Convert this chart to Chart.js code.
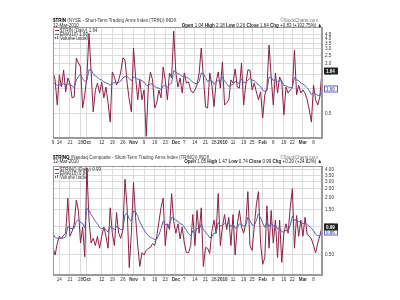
<!DOCTYPE html>
<html>
<head>
<meta charset="utf-8">
<script src="https://cdn.jsdelivr.net/npm/chart.js@4.4.1/dist/chart.umd.min.js"></script>
<style>
    body { margin: 0; background: #fff; }
    #wrap { position: relative; width: 400px; height: 300px; overflow: hidden; }
    canvas { position: absolute; left: 0; }
</style>
</head>
<body>
<div id="wrap">
    <canvas id="trin" width="400" height="150" style="top:0"></canvas>
    <canvas id="trinq" width="400" height="150" style="top:150px"></canvas>
</div>
<script>
//
// Trading days, 9-Sep-2009 .. 12-Mar-2010
//
const sepDays = [9, 10, 11, 14, 15, 16, 17, 18, 21, 22, 23, 24, 25, 28, 29, 30]
const octDays = [1, 2, 5, 6, 7, 8, 9, 12, 13, 14, 15, 16, 19, 20, 21, 22, 23, 26, 27, 28, 29, 30]
const novDays = [2, 3, 4, 5, 6, 9, 10, 11, 12, 13, 16, 17, 18, 19, 20, 23, 24, 25, 27, 30]
const decDays = [1, 2, 3, 4, 7, 8, 9, 10, 11, 14, 15, 16, 17, 18, 21, 22, 23, 24, 28, 29, 30, 31]
const janDays = [4, 5, 6, 7, 8, 11, 12, 13, 14, 15, 19, 20, 21, 22, 25, 26, 27, 28, 29]
const febDays = [1, 2, 3, 4, 5, 8, 9, 10, 11, 12, 16, 17, 18, 19, 22, 23, 24, 25, 26]
const marDays = [1, 2, 3, 4, 5, 8, 9, 10, 11, 12]

const tickDates = ['Sep 9', 'Sep 14', 'Sep 21', 'Sep 28', 'Oct 1', 'Oct 12', 'Oct 19', 'Oct 26',
    'Nov 2', 'Nov 9', 'Nov 16', 'Nov 23', 'Dec 1', 'Dec 7', 'Dec 14', 'Dec 21', 'Dec 28',
    'Jan 4', 'Jan 11', 'Jan 19', 'Jan 25', 'Feb 1', 'Feb 8', 'Feb 16', 'Feb 22', 'Mar 1', 'Mar 8']
const tickText = ['9', '14', '21', '28', 'Oct', '12', '19', '26', 'Nov', '9', '16', '23', 'Dec',
    '7', '14', '21', '28', '2010', '11', '19', '25', 'Feb', '8', '16', '22', 'Mar', '8']

//
// Series
//
const trinDaily = [
    1.59, 1.28, 0.64, 1.47, 1.05, 1.68, 0.92, 1.35, 1.17, 0.78,
    0.80, 2.34, 2.04, 1.83, 0.59, 0.85, 1.39, 4.60, 1.59, 0.53,
    0.97, 1.17, 0.89, 1.21, 0.78, 1.05, 0.68, 0.40, 1.59, 1.39,
    1.11, 1.28, 1.59, 2.34, 2.22, 1.17, 0.74, 0.53, 3.08, 1.39,
    0.74, 1.28, 0.74, 0.97, 0.27, 1.05, 1.59, 1.28, 0.59, 0.68,
    0.97, 0.78, 1.83, 1.28, 0.74, 1.55, 1.35, 4.90, 1.55, 1.05,
    1.35, 0.89, 1.55, 1.17, 1.21, 0.97, 0.89, 0.97, 1.11, 1.55,
    3.08, 1.39, 0.61, 0.59, 1.55, 1.11, 0.61, 1.21, 1.59, 1.02,
    2.10, 0.64, 0.68, 0.74, 1.28, 1.17, 1.73, 1.05, 1.02, 2.04,
    0.64, 1.11, 1.68, 1.68, 0.97, 1.17, 0.92, 0.74, 0.92, 0.45,
    0.85, 1.02, 3.35, 1.39, 0.64, 1.55, 0.89, 1.39, 1.21, 0.49,
    1.05, 0.89, 0.97, 1.02, 2.92, 0.85, 1.11, 0.89, 0.97, 0.89,
    0.74, 0.56, 0.40, 1.11, 0.74, 0.64, 0.81, 1.64,
]
const trinEma = [
    1.17, 1.16, 1.10, 1.12, 1.10, 1.15, 1.11, 1.14, 1.14, 1.08,
    1.03, 1.27, 1.41, 1.48, 1.32, 1.23, 1.26, 1.70, 1.68, 1.52,
    1.42, 1.38, 1.30, 1.28, 1.21, 1.18, 1.15, 1.10, 1.17, 1.19,
    1.18, 1.19, 1.24, 1.35, 1.40, 1.40, 1.33, 1.25, 1.38, 1.37,
    1.30, 1.30, 1.25, 1.20, 1.10, 1.09, 1.15, 1.14, 1.07, 1.03,
    1.02, 0.98, 1.08, 1.11, 1.04, 1.13, 1.17, 1.65, 1.60, 1.52,
    1.49, 1.40, 1.42, 1.37, 1.34, 1.27, 1.20, 1.16, 1.15, 1.22,
    1.55, 1.52, 1.36, 1.22, 1.28, 1.25, 1.13, 1.20, 1.26, 1.22,
    1.38, 1.25, 1.15, 1.07, 1.11, 1.12, 1.23, 1.19, 1.16, 1.32,
    1.20, 1.18, 1.27, 1.34, 1.27, 1.25, 1.19, 1.11, 1.07, 0.96,
    0.94, 0.95, 1.38, 1.38, 1.25, 1.30, 1.22, 1.25, 1.24, 1.10,
    1.09, 1.05, 1.04, 1.04, 1.38, 1.28, 1.25, 1.18, 1.14, 1.09,
    1.03, 0.95, 0.85, 0.90, 0.87, 0.83, 0.83, 1.00,
]
const trinqDaily = [
    0.59, 0.49, 0.65, 0.78, 0.74, 0.80, 0.84, 1.99, 0.78, 0.88,
    1.03, 1.90, 1.47, 0.66, 0.98, 0.47, 4.20, 1.16, 0.66, 0.74,
    0.62, 0.78, 0.58, 0.78, 0.98, 0.78, 0.58, 1.57, 0.84, 0.62,
    1.40, 0.84, 0.74, 0.92, 3.17, 1.57, 0.36, 0.84, 2.95, 1.24,
    0.62, 0.37, 0.52, 0.49, 0.55, 0.58, 0.59, 0.65, 0.62, 0.78,
    1.11, 1.57, 1.99, 0.62, 1.06, 0.92, 2.23, 1.11, 0.84, 1.06,
    0.73, 0.98, 0.66, 0.52, 0.52, 0.62, 1.33, 0.62, 1.47, 0.84,
    1.57, 0.37, 0.59, 0.58, 0.51, 0.88, 1.16, 0.84, 2.23, 0.62,
    0.98, 1.33, 0.92, 1.24, 0.62, 1.33, 0.49, 1.03, 1.47, 0.98,
    0.84, 1.06, 2.34, 0.62, 0.55, 0.98, 1.69, 2.34, 0.66, 0.39,
    0.46, 1.65, 0.58, 1.47, 0.66, 1.16, 0.46, 1.16, 0.41, 0.84,
    1.06, 0.84, 1.57, 2.51, 0.58, 1.30, 0.78, 1.16, 0.78, 1.24,
    0.81, 0.78, 0.73, 0.62, 0.52, 0.66, 0.79, 0.99,
]
const trinqEma = [
    0.82, 0.76, 0.74, 0.74, 0.74, 0.75, 0.77, 0.99, 0.95, 0.94,
    0.95, 1.12, 1.18, 1.09, 1.07, 0.96, 1.55, 1.48, 1.33, 1.23,
    1.12, 1.06, 0.97, 0.94, 0.95, 0.92, 0.86, 0.99, 0.97, 0.91,
    0.99, 0.96, 0.92, 0.92, 1.33, 1.37, 1.19, 1.13, 1.46, 1.42,
    1.27, 1.11, 1.00, 0.91, 0.84, 0.79, 0.76, 0.74, 0.72, 0.73,
    0.80, 0.94, 1.13, 1.04, 1.04, 1.02, 1.24, 1.22, 1.15, 1.13,
    1.06, 1.05, 0.98, 0.90, 0.83, 0.79, 0.89, 0.84, 0.95, 0.93,
    1.05, 0.92, 0.86, 0.81, 0.75, 0.77, 0.84, 0.84, 1.09, 1.01,
    1.01, 1.07, 1.04, 1.08, 0.99, 1.05, 0.95, 0.97, 1.06, 1.04,
    1.00, 1.01, 1.25, 1.14, 1.03, 1.02, 1.14, 1.36, 1.23, 1.08,
    0.97, 1.09, 0.99, 1.08, 1.00, 1.03, 0.93, 0.97, 0.87, 0.86,
    0.90, 0.89, 1.01, 1.28, 1.15, 1.18, 1.11, 1.12, 1.06, 1.09,
    1.04, 1.00, 0.95, 0.89, 0.82, 0.79, 0.79, 0.86,
]

const trinTicks = [0.5, 1.0, 1.5, 2.0, 2.5, 3.0, 3.5, 4.0, 4.5]
const trinqTicks = [0.5, 0.75, 1.0, 1.25, 1.5, 1.75, 2.0, 2.25, 2.5, 2.75, 3.0, 3.25, 3.5, 3.75, 4.0]

//
// Helpers
//
const FONT = '"Liberation Sans", Arial, sans-serif'
const TXT = 5.8      // header text size
const SQUEEZE = 0.78 // header text is a narrow face in the original
const TICK = 4.6
const DAILY_COLOR = '#8a2146'
const EMA_COLOR = '#5662b0'

const labels = [
    ...sepDays.map((d) => `Sep ${d}`),
    ...octDays.map((d) => `Oct ${d}`),
    ...novDays.map((d) => `Nov ${d}`),
    ...decDays.map((d) => `Dec ${d}`),
    ...janDays.map((d) => `Jan ${d}`),
    ...febDays.map((d) => `Feb ${d}`),
    ...marDays.map((d) => `Mar ${d}`),
]

function rich (ctx, x, y, parts, align) {
    const widths = parts.map(([t, b]) => {
        ctx.font = `${b ? 'bold ' : ''}${TXT}px ${FONT}`
        return ctx.measureText(t).width * SQUEEZE
    })
    const total = widths.reduce((a, w) => a + w, 0)
    let cx = align === 'right' ? x - total : x
    ctx.textAlign = 'left'
    parts.forEach(([t, b, c], i) => {
        ctx.save()
        ctx.font = `${b ? 'bold ' : ''}${TXT}px ${FONT}`
        ctx.fillStyle = c || '#222'
        ctx.translate(cx, y)
        ctx.scale(SQUEEZE, 1)
        ctx.fillText(t, 0, 0)
        ctx.restore()
        cx += widths[i]
    })
}

const panelPlugin = {
    id: 'panel',
    afterDraw (chart, args, opts) {
        const { ctx, chartArea: a } = chart
        const ys = chart.scales.y
        ctx.save()
        ctx.strokeStyle = '#9a9a9a'
        ctx.lineWidth = 1
        ctx.strokeRect(a.left + 0.5, a.top + 0.5, a.right - a.left - 1, a.bottom - a.top - 1)

        ctx.textBaseline = 'middle'
        rich(ctx, a.left, opts.titleY, opts.title, 'left')
        rich(ctx, a.right - 4, opts.titleY, [ [ '\u00a9StockCharts.com', false, '#777' ] ], 'right')
        rich(ctx, a.left, opts.dateY, [ [ '12-Mar-2010' ] ], 'left')
        rich(ctx, a.right, opts.dateY, opts.ohlc, 'right')

        opts.legend.forEach(([ text, color ], i) => {
            const ly = opts.legendY + i * 4
            if (color) {
                ctx.strokeStyle = color
                ctx.beginPath()
                ctx.moveTo(a.left + 2, ly + 0.5)
                ctx.lineTo(a.left + 6, ly + 0.5)
                ctx.stroke()
            } else {
                ctx.fillStyle = '#666'
                ctx.fillRect(a.left + 2, ly - 1, 1, 2)
                ctx.fillRect(a.left + 4, ly - 2, 1, 3)
            }
            rich(ctx, a.left + 7, ly, [ [ text, false, '#333' ] ], 'left')
        })

        for (const b of opts.boxes) {
            const py = Math.round(ys.getPixelForValue(b.value))
            ctx.fillStyle = b.fill
            ctx.fillRect(a.right + 2, py - 3.5, 14, 7)
            if (b.stroke) {
                ctx.strokeStyle = b.stroke
                ctx.strokeRect(a.right + 2.5, py - 3, 13, 6)
            }
            rich(ctx, a.right + 4, py, [ [ b.text, true, b.color ] ], 'left')
        }
        ctx.restore()
    },
}

function makePanel (id, cfg) {
    const tickIdx = cfg.tickDates.map((d) => labels.indexOf(d))
    const textAt = {}
    tickIdx.forEach((i, k) => (textAt[i] = cfg.tickText[k]))
    const isBold = (t) => t === '2010' || isNaN(Number(t))

    return new Chart(document.getElementById(id), {
        type: 'line',
        data: {
            labels,
            datasets: [
                { data: cfg.ema, borderColor: EMA_COLOR, borderWidth: 1 },
                { data: cfg.daily, borderColor: DAILY_COLOR, borderWidth: 1 },
            ],
        },
        options: {
            responsive: false,
            animation: false,
            devicePixelRatio: 1,
            elements: { point: { radius: 0 }, line: { tension: 0 } },
            layout: { padding: { left: 53, top: cfg.top, right: 0, bottom: 0 } },
            plugins: {
                legend: { display: false },
                tooltip: { enabled: false },
                panel: cfg.panel,
            },
            scales: {
                x: {
                    type: 'category',
                    offset: false,
                    afterBuildTicks: (s) => { s.ticks = tickIdx.map((i) => ({ value: i })) },
                    afterFit: (s) => { s.height = cfg.xHeight },
                    grid: { color: '#dcdcdc', drawTicks: false },
                    border: { color: '#9a9a9a' },
                    ticks: {
                        autoSkip: false,
                        maxRotation: 0,
                        padding: 2,
                        color: '#333',
                        callback: (v) => textAt[v],
                        font: (c) => ({
                            family: FONT,
                            size: TICK,
                            weight: c.tick && isBold(textAt[c.tick.value]) ? 'bold' : 'normal',
                        }),
                    },
                },
                y: {
                    type: 'logarithmic',
                    position: 'right',
                    min: cfg.min,
                    max: cfg.max,
                    afterBuildTicks: (s) => { s.ticks = cfg.ticks.map((v) => ({ value: v })) },
                    afterFit: (s) => { s.width = 78 },
                    grid: { color: '#dcdcdc', drawTicks: false },
                    border: { color: '#9a9a9a' },
                    ticks: {
                        padding: 3,
                        color: '#333',
                        font: { family: FONT, size: TICK },
                        callback: (v) => v.toFixed(cfg.digits),
                    },
                },
            },
        },
        plugins: [ panelPlugin ],
    })
}

makePanel('trin', {
    daily: trinDaily,
    ema: trinEma,
    ticks: trinTicks,
    digits: 1,
    min: 0.258,
    max: 5.5,
    top: 27,
    xHeight: 12,
    tickDates,
    tickText,
    panel: {
        titleY: 20,
        dateY: 25,
        legendY: 30,
        title: [ [ '$TRIN', true, '#000' ], [ ' (NYSE - Short-Term Trading Arms Index (TRIN)) INDX', false, '#333' ] ],
        ohlc: [ [ 'Open', true ], [ ' 1.04 ' ], [ 'High', true ], [ ' 2.18 ' ], [ 'Low', true ], [ ' 0.26 ' ],
            [ 'Close', true ], [ ' 1.64 ' ], [ 'Chg', true ], [ ' +0.83 (+102.75%) \u25b2' ] ],
        legend: [ [ '$TRIN (Daily) 1.64', DAILY_COLOR ], [ 'EMA(10) 1.00', EMA_COLOR ], [ 'Volume undef', null ] ],
        boxes: [
            { value: trinEma[trinEma.length - 1], text: '1.00', fill: '#fff', stroke: EMA_COLOR, color: EMA_COLOR },
            { value: trinDaily[trinDaily.length - 1], text: '1.64', fill: '#222', color: '#fff' },
        ],
    },
})

makePanel('trinq', {
    daily: trinqDaily,
    ema: trinqEma,
    ticks: trinqTicks,
    digits: 2,
    min: 0.344,
    max: 4.4,
    top: 16,
    xHeight: 25,
    tickDates: tickDates.slice(1),
    tickText: tickText.slice(1),
    panel: {
        titleY: 7,
        dateY: 11.5,
        legendY: 19,
        title: [ [ '$TRINQ', true, '#000' ], [ ' (Nasdaq Composite - Short-Term Trading Arms Index (TRINQ)) INDX', false, '#333' ] ],
        ohlc: [ [ 'Open', true ], [ ' 1.05 ' ], [ 'High', true ], [ ' 1.47 ' ], [ 'Low', true ], [ ' 0.74 ' ],
            [ 'Close', true ], [ ' 0.99 ' ], [ 'Chg', true ], [ ' +0.20 (+24.82%) \u25b2' ] ],
        legend: [ [ '$TRINQ (Daily) 0.99', DAILY_COLOR ], [ 'EMA(10) 0.86', EMA_COLOR ], [ 'Volume undef', null ] ],
        boxes: [
            { value: trinqEma[trinqEma.length - 1], text: '0.86', fill: '#fff', stroke: EMA_COLOR, color: EMA_COLOR },
            { value: trinqDaily[trinqDaily.length - 1], text: '0.99', fill: '#222', color: '#fff' },
        ],
    },
})
</script>
</body>
</html>
